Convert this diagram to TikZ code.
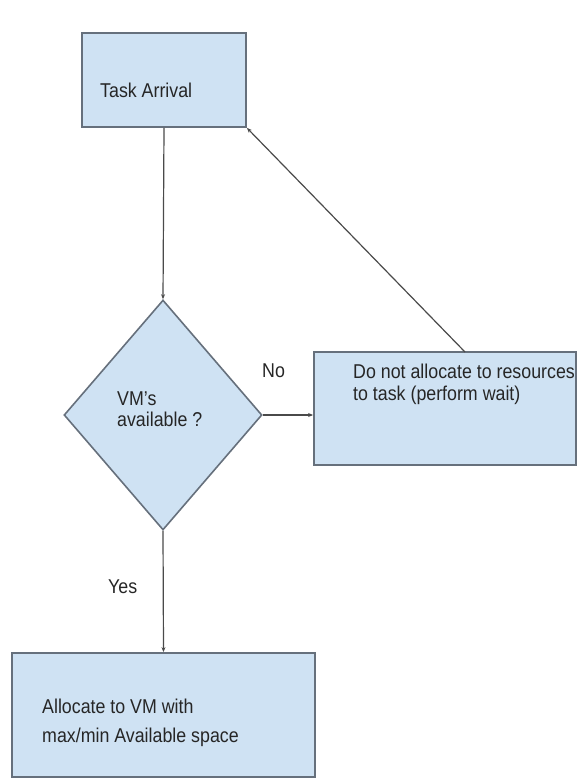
\documentclass[tikz,border=0pt]{standalone}
\usepackage{fontspec}
\setmainfont{Liberation Sans}[FakeStretch=0.89]
\usetikzlibrary{arrows.meta,shapes.geometric}
\definecolor{boxfill}{HTML}{CFE2F3}
\definecolor{boxline}{HTML}{66707C}
\definecolor{wire}{HTML}{4A4A4A}
\definecolor{ink}{HTML}{262626}
\tikzset{
  procbox/.style={draw=boxline, fill=boxfill, line width=1.8pt, rectangle, inner sep=0pt},
  decision/.style={draw=boxline, fill=boxfill, line width=1.6pt, diamond, inner sep=0pt,
    minimum width=198pt, minimum height=230pt},
  label/.style={text=ink, inner sep=0pt, font=\fontsize{20}{22}\selectfont, align=left},
  flow/.style={draw=wire, line width=1.2pt, -{Stealth[length=5pt,width=4pt]}},
}
\begin{document}
\begin{tikzpicture}[x=1pt,y=-1pt]
  \useasboundingbox (0,0) rectangle (579,778);
  % boxes
  \node[procbox, minimum width=164pt, minimum height=94pt] (arrive) at (164,80) {};
  \node[decision] (check) at (163,415) {};
  \node[procbox, minimum width=262pt, minimum height=113pt] (wait) at (445,408.5) {};
  \node[procbox, minimum width=303pt, minimum height=124pt] (alloc) at (163.5,715) {};
  % texts (base anchor sits on the last line)
  \node[label, anchor=base west] (tArrive) at (100,98) {Task Arrival};
  \node[label, anchor=base west, font=\fontsize{20}{21}\selectfont] (tCheck) at (117,426) {VM{\char"27}s\\available ?};
  \node[label, anchor=base west, font=\fontsize{20}{22}\selectfont] (tWait) at (353,400) {Do not allocate to resources\\to task (perform wait)};
  \node[label, anchor=base west, font=\fontsize{20}{29}\selectfont] (tAlloc) at (42,742) {Allocate to VM with\\max/min Available space};
  \node[label, anchor=base west] (tNo) at (262,377) {No};
  \node[label, anchor=base west] (tYes) at (108,593) {Yes};
  % connectors
  \draw[flow] (arrive.south) -- (check.north);
  \draw[flow] (check.east) -- (check.east -| wait.west);
  \draw[flow] (check.south) -- (alloc.north);
  \coordinate (waitTop) at (465,352);
  \draw[flow] (waitTop) -- (arrive.south east);
\end{tikzpicture}
\end{document}
